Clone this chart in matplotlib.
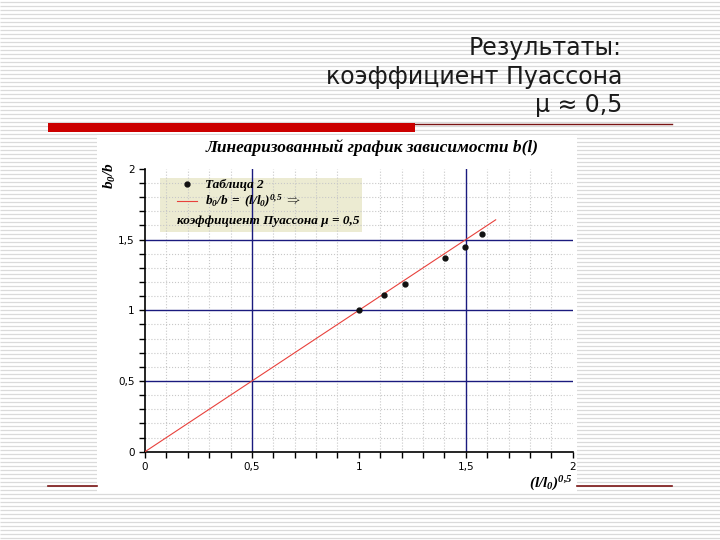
import numpy as np
import matplotlib
matplotlib.use("Agg")
import matplotlib.pyplot as plt
from matplotlib.patches import Rectangle
from matplotlib.lines import Line2D
from matplotlib.ticker import MultipleLocator, FuncFormatter
from matplotlib.font_manager import FontProperties

plt.rcParams["mathtext.fontset"] = "custom"
plt.rcParams["mathtext.it"] = "Liberation Serif:italic:bold"
plt.rcParams["mathtext.rm"] = "Liberation Serif:italic:bold"

# measured points (Таблица 2): x = (l/l0)^0.5, y = b0/b
x_pts = [1.000, 1.119, 1.217, 1.404, 1.498, 1.578]
y_pts = [1.002, 1.111, 1.186, 1.373, 1.448, 1.540]
# model line b0/b = (l/l0)^0.5
fit_x = [0.0, 1.64]
fit_y = [0.0, 1.64]
# blue reference lines
vlines_x = [0.5, 1.5]
hlines_y = [0.5, 1.0, 1.5]

W, H = 720, 540
fig = plt.figure(figsize=(7.2, 5.4), dpi=100)

# ---- slide background (pixel coords) ----
bg = fig.add_axes([0, 0, 1, 1], zorder=-1)
bg.set_xlim(0, W)
bg.set_ylim(H, 0)
bg.axis("off")
bg.hlines(np.arange(1.5, H, 4), 0, W, color="#dadada", lw=0.9, zorder=1)
bg.add_patch(Rectangle((97, 135), 480, 357, fc="white", ec="none", zorder=3))
bg.add_patch(Rectangle((48, 123), 367, 9, fc="#cc0000", ec="none", zorder=3))
bg.plot([415, 672], [124, 124], color="#7a1414", lw=1.0, zorder=3)
bg.plot([48, 97], [486, 486], color="#7a1414", lw=1.2, zorder=3)
bg.plot([577, 672], [486, 486], color="#7a1414", lw=1.2, zorder=3)

sans = ["DejaVu Sans"]
for txt, yy in [("Результаты:", 48), ("коэффициент Пуассона", 77),
                ("μ ≈ 0,5", 105)]:
    fig.text(622 / W, 1 - yy / H, txt, ha="right", va="center",
             fontsize=17, color="#1a1a1a", family=sans)

# ---- chart ----
ax = fig.add_axes([145 / W, 1 - 451.7 / H, (572.7 - 145) / W,
                   (451.7 - 168.9) / H])
ax.set_facecolor("none")
ax.set_xlim(0, 2)
ax.set_ylim(0, 2)
for s in ("top", "right"):
    ax.spines[s].set_visible(False)
for s in ("left", "bottom"):
    ax.spines[s].set_linewidth(1.2)

ax.xaxis.set_major_locator(MultipleLocator(0.5))
ax.yaxis.set_major_locator(MultipleLocator(0.5))
ax.xaxis.set_minor_locator(MultipleLocator(0.1))
ax.yaxis.set_minor_locator(MultipleLocator(0.1))
fmt = FuncFormatter(lambda v, _: f"{v:g}".replace(".", ","))
ax.xaxis.set_major_formatter(fmt)
ax.yaxis.set_major_formatter(fmt)
ax.tick_params(which="both", direction="out", length=4, width=1,
               labelsize=7.5, colors="black")
ax.grid(which="minor", ls=":", color="#c8c8c8", lw=0.8)

for v in vlines_x:
    ax.axvline(v, color="#1a1a7e", lw=1.0, zorder=2)
for h in hlines_y:
    ax.axhline(h, color="#1a1a7e", lw=1.0, zorder=2)

ax.plot(fit_x, fit_y, color="#e8413c", lw=0.8, zorder=3)
ax.plot(x_pts, y_pts, "o", ms=3.5, color="#111111", zorder=4)

serif = FontProperties(family=["Liberation Serif", "DejaVu Serif"],
                       style="italic", weight="bold", size=9.5)

# legend background
ax.add_patch(Rectangle((160 / W, 1 - 232 / H), 202 / W, 54 / H,
                       transform=fig.transFigure, fc="#ecebd2", ec="none",
                       zorder=0.5, clip_on=False))
handles = [Line2D([], [], marker="o", ls="none", color="#111111", ms=3.5),
           Line2D([], [], color="#e8413c", lw=0.8)]
labels = ["Таблица 2", r"$b_0/b\;=\;(l/l_0)^{0{,}5}\ \Rightarrow$"]
ax.legend(handles, labels, loc="upper left", prop=serif, frameon=False,
          bbox_to_anchor=(177 / W, 1 - 179 / H), bbox_transform=fig.transFigure,
          borderpad=0, borderaxespad=0, handlelength=1.5, handletextpad=0.6,
          labelspacing=0.15)
fig.text(177 / W, 1 - 221 / H, "коэффициент Пуассона μ = 0,5",
         fontproperties=serif, va="center", ha="left")

fig.text(372 / W, 1 - 148 / H, "Линеаризованный график зависимости b(l)",
         family=["Liberation Serif", "DejaVu Serif"], style="italic",
         weight="bold", fontsize=12.5, ha="center", va="center")
fig.text(110 / W, 1 - 176 / H, r"$b_0/b$", rotation=90, fontsize=11,
         ha="center", va="center")
fig.text(551 / W, 1 - 484 / H, r"$(l/l_0)^{0{,}5}$", fontsize=11,
         ha="center", va="center")

fig.savefig("out.png", dpi=100)
